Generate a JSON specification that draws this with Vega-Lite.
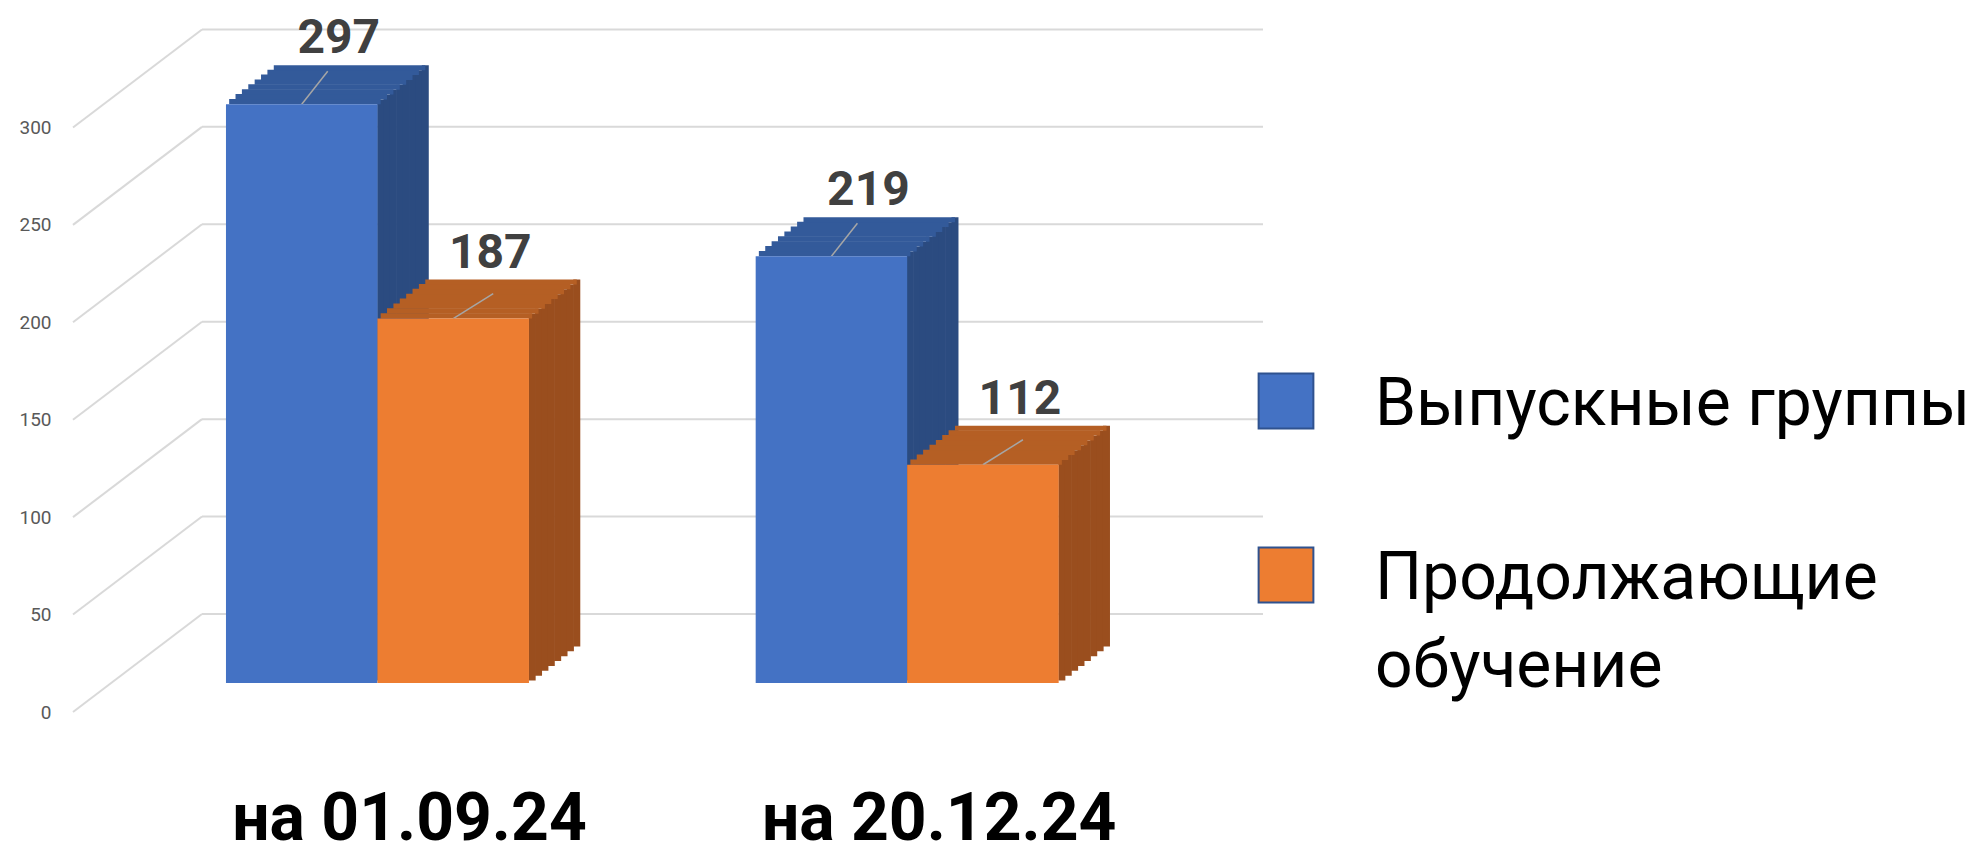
{
  "$schema": "https://vega.github.io/schema/vega-lite/v6.json",
  "autosize": "none",
  "padding": {"left": 202, "top": 1, "right": 717, "bottom": 176},
  "width": 1061,
  "height": 682,
  "background": "white",
  "config": {"view": {"stroke": null}, "font": "Roboto"},
  "datasets": {
    "bars": [
      {"date": "на 01.09.24", "series": "Выпускные группы", "value": 297},
      {"date": "на 01.09.24", "series": "Продолжающие обучение", "value": 187},
      {"date": "на 20.12.24", "series": "Выпускные группы", "value": 219},
      {"date": "на 20.12.24", "series": "Продолжающие обучение", "value": 112}
    ],
    "ticks": [{"value": 0}, {"value": 50}, {"value": 100}, {"value": 150}, {"value": 200}, {"value": 250}, {"value": 300}]
  },
  "layer": [
    {
      "data": {"name": "ticks"},
      "mark": {"type": "rule", "color": "#D9D9D9", "strokeWidth": 2, "yOffset": -69},
      "encoding": {
        "y": {"field": "value", "type": "quantitative", "scale": {"domain": [0, 350], "nice": false}, "axis": {"title": null, "values": [0, 50, 100, 150, 200, 250, 300], "grid": false, "domain": false, "ticks": false, "tickSize": 0, "labelPadding": 151, "labelOffset": 29, "labelFont": "Roboto", "labelFontSize": 19, "labelColor": "#595959"}}
      }
    },
    {
      "data": {"name": "ticks"},
      "mark": {"type": "rule", "color": "#D9D9D9", "strokeWidth": 2, "yOffset": 29, "y2Offset": -69},
      "encoding": {
        "y": {"field": "value", "type": "quantitative", "scale": {"domain": [0, 350], "nice": false}, "axis": {"title": null, "values": [0, 50, 100, 150, 200, 250, 300], "grid": false, "domain": false, "ticks": false, "tickSize": 0, "labelPadding": 151, "labelOffset": 29, "labelFont": "Roboto", "labelFontSize": 19, "labelColor": "#595959"}},
        "y2": {"field": "value"},
        "x": {"value": -129},
        "x2": {"value": 0}
      }
    },
    {
      "data": {"name": "bars"},
      "encoding": {
        "x": {"field": "date", "type": "nominal", "scale": {"paddingInner": 0.428, "paddingOuter": 0.2155, "align": 0.105}, "axis": {"title": null, "domain": false, "ticks": false, "tickSize": 0, "labelPadding": 104, "labelOffset": 32, "labelFont": "Roboto", "labelFontWeight": "bold", "labelFontSize": 66, "labelColor": "#000000", "labelAngle": 0, "labelLimit": 1000}},
        "y": {"field": "value", "type": "quantitative", "scale": {"domain": [0, 350], "nice": false}, "axis": {"title": null, "values": [0, 50, 100, 150, 200, 250, 300], "grid": false, "domain": false, "ticks": false, "tickSize": 0, "labelPadding": 151, "labelOffset": 29, "labelFont": "Roboto", "labelFontSize": 19, "labelColor": "#595959"}}
      },
      "layer": [
        {
          "transform": [{"filter": "datum.series === 'Выпускные группы'"}],
          "encoding": {"y2": {"datum": 0}},
          "layer": [
            {"mark": {"type": "bar", "color": "#2B4B80", "width": 7, "xOffset": 3.19, "yOffset": -4.875, "y2Offset": -2.44}},
            {"mark": {"type": "bar", "color": "#2B4B80", "width": 7, "xOffset": 9.56, "yOffset": -9.75, "y2Offset": -7.31}},
            {"mark": {"type": "bar", "color": "#2B4B80", "width": 7, "xOffset": 15.94, "yOffset": -14.625, "y2Offset": -12.19}},
            {"mark": {"type": "bar", "color": "#2B4B80", "width": 7, "xOffset": 22.31, "yOffset": -19.5, "y2Offset": -17.06}},
            {"mark": {"type": "bar", "color": "#2B4B80", "width": 7, "xOffset": 28.69, "yOffset": -24.375, "y2Offset": -21.94}},
            {"mark": {"type": "bar", "color": "#2B4B80", "width": 7, "xOffset": 35.06, "yOffset": -29.25, "y2Offset": -26.81}},
            {"mark": {"type": "bar", "color": "#2B4B80", "width": 7, "xOffset": 41.44, "yOffset": -34.125, "y2Offset": -31.69}},
            {"mark": {"type": "bar", "color": "#2B4B80", "width": 7, "xOffset": 47.81, "yOffset": -39, "y2Offset": -36.56}}
          ]
        },
        {
          "transform": [{"filter": "datum.series === 'Продолжающие обучение'"}],
          "encoding": {"y2": {"datum": 0}},
          "layer": [
            {"mark": {"type": "bar", "color": "#9A4E1E", "width": 7, "xOffset": 154.69, "yOffset": -4.875, "y2Offset": -2.44}},
            {"mark": {"type": "bar", "color": "#9A4E1E", "width": 7, "xOffset": 161.06, "yOffset": -9.75, "y2Offset": -7.31}},
            {"mark": {"type": "bar", "color": "#9A4E1E", "width": 7, "xOffset": 167.44, "yOffset": -14.625, "y2Offset": -12.19}},
            {"mark": {"type": "bar", "color": "#9A4E1E", "width": 7, "xOffset": 173.81, "yOffset": -19.5, "y2Offset": -17.06}},
            {"mark": {"type": "bar", "color": "#9A4E1E", "width": 7, "xOffset": 180.19, "yOffset": -24.375, "y2Offset": -21.94}},
            {"mark": {"type": "bar", "color": "#9A4E1E", "width": 7, "xOffset": 186.56, "yOffset": -29.25, "y2Offset": -26.81}},
            {"mark": {"type": "bar", "color": "#9A4E1E", "width": 7, "xOffset": 192.94, "yOffset": -34.125, "y2Offset": -31.69}},
            {"mark": {"type": "bar", "color": "#9A4E1E", "width": 7, "xOffset": 199.31, "yOffset": -39, "y2Offset": -36.56}}
          ]
        },
        {
          "transform": [{"filter": "datum.series === 'Выпускные группы'"}],
          "encoding": {"y2": {"field": "value"}},
          "layer": [
            {"mark": {"type": "bar", "color": "#335A9A", "width": 151.5, "xOffset": -72.56, "yOffset": -5.375, "y2Offset": 0}},
            {"mark": {"type": "bar", "color": "#335A9A", "width": 151.5, "xOffset": -66.19, "yOffset": -10.25, "y2Offset": -4.875}},
            {"mark": {"type": "bar", "color": "#335A9A", "width": 151.5, "xOffset": -59.81, "yOffset": -15.125, "y2Offset": -9.75}},
            {"mark": {"type": "bar", "color": "#335A9A", "width": 151.5, "xOffset": -53.44, "yOffset": -20, "y2Offset": -14.625}},
            {"mark": {"type": "bar", "color": "#335A9A", "width": 151.5, "xOffset": -47.06, "yOffset": -24.875, "y2Offset": -19.5}},
            {"mark": {"type": "bar", "color": "#335A9A", "width": 151.5, "xOffset": -40.69, "yOffset": -29.75, "y2Offset": -24.375}},
            {"mark": {"type": "bar", "color": "#335A9A", "width": 151.5, "xOffset": -34.31, "yOffset": -34.625, "y2Offset": -29.25}},
            {"mark": {"type": "bar", "color": "#335A9A", "width": 151.5, "xOffset": -27.94, "yOffset": -39, "y2Offset": -34.125}},
            {"mark": {"type": "rule", "color": "#A6A6A6", "strokeWidth": 1.5, "xOffset": -75.75, "x2Offset": -49.75, "yOffset": 0, "y2Offset": -33}, "encoding": {"x2": {"field": "date"}}}
          ]
        },
        {
          "transform": [{"filter": "datum.series === 'Продолжающие обучение'"}],
          "encoding": {"y2": {"field": "value"}},
          "layer": [
            {"mark": {"type": "bar", "color": "#B55F24", "width": 151.5, "xOffset": 78.94, "yOffset": -5.375, "y2Offset": 0}},
            {"mark": {"type": "bar", "color": "#B55F24", "width": 151.5, "xOffset": 85.31, "yOffset": -10.25, "y2Offset": -4.875}},
            {"mark": {"type": "bar", "color": "#B55F24", "width": 151.5, "xOffset": 91.69, "yOffset": -15.125, "y2Offset": -9.75}},
            {"mark": {"type": "bar", "color": "#B55F24", "width": 151.5, "xOffset": 98.06, "yOffset": -20, "y2Offset": -14.625}},
            {"mark": {"type": "bar", "color": "#B55F24", "width": 151.5, "xOffset": 104.44, "yOffset": -24.875, "y2Offset": -19.5}},
            {"mark": {"type": "bar", "color": "#B55F24", "width": 151.5, "xOffset": 110.81, "yOffset": -29.75, "y2Offset": -24.375}},
            {"mark": {"type": "bar", "color": "#B55F24", "width": 151.5, "xOffset": 117.19, "yOffset": -34.625, "y2Offset": -29.25}},
            {"mark": {"type": "bar", "color": "#B55F24", "width": 151.5, "xOffset": 123.56, "yOffset": -39, "y2Offset": -34.125}},
            {"mark": {"type": "rule", "color": "#A6A6A6", "strokeWidth": 1.5, "xOffset": 75.75, "x2Offset": 115.75, "yOffset": 0, "y2Offset": -25}, "encoding": {"x2": {"field": "date"}}}
          ]
        },
        {
          "encoding": {
            "xOffset": {"field": "series", "type": "nominal", "sort": ["Выпускные группы", "Продолжающие обучение"], "scale": {"paddingInner": 0, "paddingOuter": 0}}
          },
          "layer": [
            {
              "mark": {"type": "bar"},
              "encoding": {
                "color": {
                  "field": "series", "type": "nominal",
                  "sort": ["Выпускные группы", "Продолжающие обучение"],
                  "scale": {"domain": ["Выпускные группы", "Продолжающие обучение"], "range": ["#4472C4", "#ED7D31"]},
                  "legend": {
                    "title": null, "orient": "none", "legendX": 1051, "legendY": 367, "padding": 0,
                    "symbolType": "square", "symbolSize": 3000, "symbolStrokeColor": "#2F528F", "symbolStrokeWidth": 2, "symbolOpacity": 1,
                    "labelFont": "Roboto", "labelFontSize": 66, "labelColor": "#000000", "labelOffset": 56, "labelLimit": 1000,
                    "labelBaseline": "alphabetic", "rowPadding": 104,
                    "labelExpr": "datum.label === 'Продолжающие обучение' ? ['Продолжающие', 'обучение'] : datum.label",
                    "encoding": {
                      "labels": {"dy": {"value": 24}, "lineHeight": {"value": 88}}
                    }
                  }
                }
              }
            },
            {
              "mark": {"type": "text", "dx": 37, "dy": -51, "baseline": "alphabetic", "font": "Roboto", "fontWeight": "bold", "fontSize": 48, "color": "#404040"},
              "encoding": {"text": {"field": "value", "type": "quantitative"}}
            }
          ]
        }
      ]
    }
  ]
}
